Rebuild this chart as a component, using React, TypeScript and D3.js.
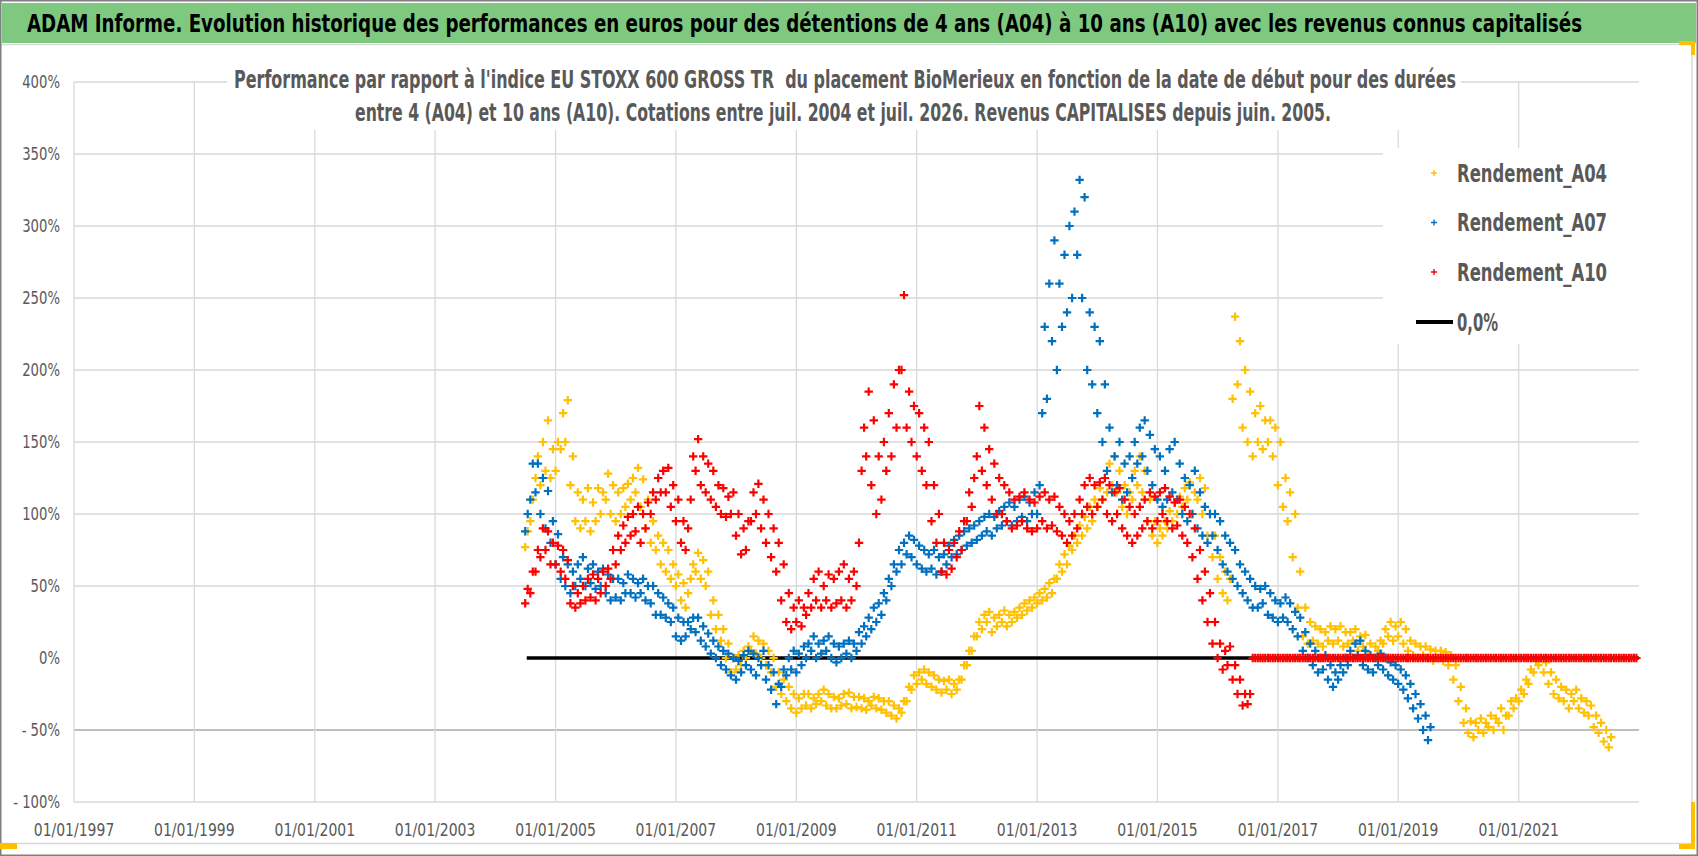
import React from "react";
import * as d3 from "d3";

// ---- data (semi-monthly readings, 1st and 16th of each month, from July 2004) ----
const a04 = [
  77, 88, 95, 110, 125, 140, 120, 150, 130, 165, 125, 145,
  130, 150, 145, 170, 150, 179, 120, 140, 95, 115, 90, 110, 95, 118, 88, 108, 95, 118, 100, 115, 110, 128, 100, 120,
  95, 115, 100, 118, 105, 121, 110, 125, 115, 132, 105, 124, 90, 110, 80, 95, 75, 85, 65, 80, 60, 75, 55, 65,
  50, 58, 40, 52, 35, 45, 55, 65, 60, 73, 55, 68, 50, 60, 30, 40, 20, 30, 12, 20, 0, 10, -10, 0,
  -8, 2, -5, 5, 0, 8, 5, 15, 3, 12, 0, 10, -5, 5, -10, 0, -20, -10, -25, -15, -30, -20, -35, -25,
  -38, -28, -35, -25, -33, -25, -35, -28, -32, -25, -30, -22, -33, -25, -35, -27, -35, -28, -33, -25, -32, -24, -35, -27,
  -34, -27, -35, -28, -36, -30, -33, -27, -35, -28, -36, -30, -38, -30, -40, -33, -42, -35, -38, -30, -30, -20, -22, -12,
  -18, -10, -15, -8, -18, -10, -20, -12, -22, -15, -24, -16, -22, -15, -25, -18, -22, -15, -15, -5, -5, 5, 5, 15,
  15, 25, 20, 30, 25, 32, 18, 28, 22, 30, 25, 33, 22, 30, 25, 32, 28, 35, 30, 38, 33, 40, 35, 42,
  38, 45, 40, 48, 42, 52, 45, 55, 55, 65, 60, 72, 65, 78, 75, 85, 80, 92, 85, 98, 90, 105, 95, 110,
  105, 118, 110, 125, 115, 135, 120, 140, 115, 130, 105, 120, 100, 115, 110, 130, 120, 140, 115, 130, 95, 110, 85, 95,
  80, 90, 85, 95, 90, 102, 95, 108, 100, 112, 105, 118, 110, 122, 100, 115, 110, 125, 100, 118, 85, 100, 70, 85,
  55, 70, 45, 60, 40, 55, 180, 237, 190, 220, 160, 200, 150, 185, 140, 170, 150, 175, 145, 165, 150, 165, 140, 160,
  120, 150, 105, 125, 95, 115, 70, 100, 35, 60, 15, 35, 10, 25, 12, 22, 10, 20, 8, 18, 12, 22, 10, 20,
  12, 22, 8, 18, 10, 18, 12, 20, 5, 15, 8, 16, 2, 10, 0, 8, 5, 12, 10, 20, 15, 25, 12, 22,
  15, 25, 10, 20, 5, 12, 2, 10, 0, 8, 2, 8, 0, 6, -2, 5, 0, 5, -2, 4, -5, 2, -15, -5,
  -30, -20, -45, -35, -52, -44, -55, -45, -50, -42, -52, -45, -48, -40, -50, -42, -45, -35, -50, -40, -40, -30, -35, -28,
  -30, -22, -25, -15, -18, -8, -10, -2, -5, 0, -10, -3, -18, -10, -25, -15, -28, -20, -30, -22, -35, -25, -30, -22,
  -35, -28, -38, -30, -40, -33, -48, -40, -52, -45, -58, -50, -62, -55,
];

const a07 = [
  88, 100, 110, 135, 115, 135, 100, 125, 90, 116, 80, 95,
  65, 86, 55, 70, 50, 65, 45, 60, 50, 65, 55, 70, 50, 62, 52, 65, 48, 60, 50, 62, 45, 58, 40, 55,
  42, 55, 40, 52, 45, 58, 45, 55, 42, 52, 45, 55, 40, 50, 38, 50, 30, 45, 30, 42, 28, 38, 25, 35,
  15, 28, 12, 25, 15, 25, 20, 28, 18, 28, 12, 22, 8, 17, 3, 12, 0, 8, -5, 5, -8, 3, -12, 0,
  -15, -2, -10, 2, -5, 5, -8, 3, -12, 0, -5, 5, -15, -5, -22, -10, -32, -18, -20, -8, -12, 0, -8, 5,
  -10, 3, -5, 8, 0, 10, 5, 15, 0, 10, 3, 12, 5, 15, 0, 10, -3, 8, 0, 10, 3, 12, 0, 10,
  5, 18, 10, 22, 15, 28, 20, 35, 25, 38, 30, 45, 40, 55, 50, 65, 60, 75, 65, 80, 72, 85, 70, 82,
  65, 78, 62, 75, 60, 72, 62, 75, 58, 70, 60, 72, 65, 78, 70, 82, 72, 85, 75, 88, 78, 90, 80, 92,
  82, 95, 85, 98, 88, 100, 85, 98, 90, 102, 92, 105, 95, 108, 92, 105, 95, 110, 98, 112, 95, 108, 100, 115,
  100, 120, 170, 230, 180, 260, 220, 290, 200, 260, 230, 280, 240, 300, 250, 310, 280, 332, 250, 320, 200, 240, 190, 230,
  170, 220, 150, 190, 130, 160, 115, 140, 120, 150, 110, 135, 115, 140, 125, 150, 135, 160, 140, 165, 130, 155, 120, 145,
  110, 140, 105, 130, 110, 145, 115, 150, 110, 135, 100, 125, 95, 120, 100, 130, 90, 115, 85, 105, 80, 100, 85, 100,
  75, 95, 65, 85, 60, 80, 55, 75, 50, 65, 45, 60, 40, 55, 35, 50, 35, 48, 38, 50, 30, 45, 28, 40,
  25, 38, 28, 42, 25, 38, 20, 32, 15, 28, 5, 18, 0, 10, -5, 5, -10, 0, -8, 2, -15, -5, -20, -10,
  -15, -5, -10, 0, -5, 5, 0, 10, 2, 12, -5, 5, -8, 2, -10, 0, -5, 3, -8, 0, -12, -3, -15, -5,
  -18, -8, -22, -12, -28, -18, -35, -25, -42, -32, -50, -40, -57, -48,
];

const a10 = [
  38, 48, 45, 60, 60, 75, 70, 90, 75, 88, 65, 80,
  65, 78, 60, 75, 55, 68, 38, 50, 35, 45, 38, 50, 40, 55, 42, 58, 40, 55, 45, 60, 50, 62, 55, 75,
  65, 85, 75, 92, 80, 98, 85, 100, 88, 105, 80, 100, 90, 108, 100, 115, 110, 125, 115, 130, 115, 132, 105, 120,
  95, 110, 80, 95, 75, 90, 110, 140, 130, 152, 120, 140, 115, 135, 110, 130, 105, 120, 100, 118, 98, 112, 100, 115,
  85, 100, 72, 90, 75, 95, 95, 115, 100, 121, 90, 110, 80, 100, 70, 90, 60, 80, 40, 65, 25, 45, 20, 35,
  25, 40, 22, 35, 30, 45, 35, 55, 40, 60, 35, 50, 40, 58, 35, 55, 38, 60, 40, 65, 35, 55, 40, 60,
  50, 80, 130, 160, 140, 185, 120, 165, 100, 140, 110, 150, 130, 170, 140, 190, 160, 200, 200, 252, 160, 185, 150, 175,
  140, 170, 130, 160, 120, 150, 95, 120, 80, 100, 60, 80, 58, 75, 62, 80, 70, 88, 75, 95, 95, 115, 105, 125,
  140, 175, 130, 160, 120, 145, 110, 135, 100, 125, 100, 120, 95, 115, 90, 110, 92, 112, 95, 115, 90, 110, 88, 108,
  90, 112, 95, 115, 90, 110, 92, 112, 88, 105, 85, 100, 80, 95, 85, 100, 90, 110, 100, 120, 105, 125, 100, 120,
  105, 122, 110, 125, 100, 120, 95, 115, 100, 118, 90, 110, 85, 105, 80, 100, 85, 105, 90, 110, 95, 115, 90, 112,
  95, 115, 100, 118, 95, 112, 90, 108, 92, 110, 85, 105, 80, 100, 70, 90, 55, 75, 40, 60, 25, 45, 10, 25,
  0, 10, -8, 5, -5, 8, -15, -5, -25, -15, -33, -25, -32, -25,
  // Aug 2016 onwards: the series reads 0 up to the end of the axis
  0, 0, 0, 0, 0, 0, 0, 0, 0, 0,
  0, 0, 0, 0, 0, 0, 0, 0, 0, 0, 0, 0, 0, 0, 0, 0, 0, 0, 0, 0, 0, 0, 0, 0,
  0, 0, 0, 0, 0, 0, 0, 0, 0, 0, 0, 0, 0, 0, 0, 0, 0, 0, 0, 0, 0, 0, 0, 0,
  0, 0, 0, 0, 0, 0, 0, 0, 0, 0, 0, 0, 0, 0, 0, 0, 0, 0, 0, 0, 0, 0, 0, 0,
  0, 0, 0, 0, 0, 0, 0, 0, 0, 0, 0, 0, 0, 0, 0, 0, 0, 0, 0, 0, 0, 0, 0, 0,
  0, 0, 0, 0, 0, 0, 0, 0, 0, 0, 0, 0, 0, 0, 0, 0, 0, 0, 0, 0, 0, 0, 0, 0,
  0, 0, 0, 0, 0, 0, 0, 0, 0, 0, 0, 0, 0, 0, 0, 0, 0, 0, 0, 0, 0, 0, 0, 0,
];

const zeroLineDates = ["2004-07-10", "2022-12-31"];
const zeroLineValues = [0, 0];

const yTicks = [-100, -50, 0, 50, 100, 150, 200, 250, 300, 350, 400];
const xTickYears = [1997, 1999, 2001, 2003, 2005, 2007, 2009, 2011, 2013, 2015, 2017, 2019, 2021];

const seriesNames = ["Rendement_A04", "Rendement_A07", "Rendement_A10"];
const zeroName = "0,0%";
const title =
  "ADAM Informe. Evolution historique des performances en euros pour des détentions de 4 ans (A04) à 10 ans (A10) avec les revenus connus capitalisés";
const subtitle1 =
  "Performance par rapport à l'indice EU STOXX 600 GROSS TR  du placement BioMerieux en fonction de la date de début pour des durées";
const subtitle2 =
  "entre 4 (A04) et 10 ans (A10). Cotations entre juil. 2004 et juil. 2026. Revenus CAPITALISES depuis juin. 2005.";

// ---- layout ----
const W = 1698;
const H = 856;
const plot = { left: 74, right: 1639, top: 82, bottom: 802 };
const colors = ["#FFC000", "#0070C0", "#FF0000"];
const grey = "#595959";
const font = "'DejaVu Sans Condensed', 'Liberation Sans Narrow', sans-serif";
const squeeze = 0.8; // the screenshot's Calibri is narrower than any installed face

const halfMonth = (k: number) => new Date(2004, 6 + Math.floor(k / 2), k % 2 ? 16 : 1);

const x = d3
  .scaleTime()
  .domain([new Date(1997, 0, 1), new Date(2023, 0, 1)])
  .range([plot.left, plot.right]);
const y = d3.scaleLinear().domain([-100, 400]).range([plot.bottom, plot.top]);

const plus = (s: number) => `M${-s},0H${s}M0,${-s}V${s}`;

const fmtDate = d3.timeFormat("%d/%m/%Y");
const fmtPct = (v: number) => (v < 0 ? `- ${Math.abs(v)}%` : `${v}%`);

// narrow text: squeezed horizontally, fitted to the width measured on the reference
function Narrow(props: {
  x: number;
  y: number;
  width?: number;
  size: number;
  weight?: number;
  fill: string;
  anchor?: string;
  scale?: number;
  dy?: string;
  children: string;
}) {
  const k = props.scale ?? squeeze;
  return (
    <text
      transform={`translate(${props.x},${props.y}) scale(${k},1)`}
      fontSize={props.size}
      fontWeight={props.weight ?? 400}
      fill={props.fill}
      textAnchor={props.anchor ?? "start"}
      dy={props.dy}
      xmlSpace="preserve"
      style={{ whiteSpace: "pre" }}
      textLength={props.width ? props.width / k : undefined}
      lengthAdjust={props.width ? "spacingAndGlyphs" : undefined}
    >
      {props.children}
    </text>
  );
}

export default function App() {
  const series = [a04, a07, a10];
  const zeroPath = d3
    .line<number>()
    .x((_, i) => x(new Date(zeroLineDates[i])))
    .y((v) => y(v))(zeroLineValues);

  return (
    <svg
      width={W}
      height={H}
      style={{ position: "absolute", left: 0, top: 0, display: "block", background: "#fff" }}
      fontFamily={font}
    >
      {/* frame */}
      <rect x={0} y={0} width={W} height={H} fill="#fff" />
      <rect x={2} y={3} width={W - 4} height={40} fill="#7EC87F" />
      <line x1={0} x2={1692} y1={44.5} y2={44.5} stroke="#d9d9d9" strokeWidth={1.5} />
      <line x1={1692} x2={1692} y1={44} y2={844} stroke="#d9d9d9" strokeWidth={1.5} />
      <line x1={0} x2={1692} y1={843.5} y2={843.5} stroke="#d9d9d9" strokeWidth={1.5} />
      <rect x={0.75} y={0.75} width={W - 1.5} height={H - 1.5} fill="none" stroke="#7f7f7f" strokeWidth={1.5} />

      <Narrow x={27} y={32} size={25} weight={700} fill="#000" width={1555}>
        {title}
      </Narrow>

      {/* grid */}
      {yTicks
        .filter((v) => v !== 0)
        .map((v) => (
          <line
            key={`h${v}`}
            x1={plot.left}
            x2={plot.right}
            y1={y(v)}
            y2={y(v)}
            stroke={v === -50 ? "#bfbfbf" : "#d9d9d9"}
            strokeWidth={v === -50 ? 2 : 1.3}
          />
        ))}
      {xTickYears.map((yr) => (
        <line
          key={`v${yr}`}
          x1={x(new Date(yr, 0, 1))}
          x2={x(new Date(yr, 0, 1))}
          y1={plot.top}
          y2={plot.bottom}
          stroke="#d9d9d9"
          strokeWidth={1.3}
        />
      ))}

      {/* subtitle */}
      <rect x={227} y={60} width={1234} height={70} fill="#fff" />
      <Narrow x={234} y={88} size={24} weight={700} fill={grey} width={1222}>
        {subtitle1}
      </Narrow>
      <Narrow x={355} y={121} size={24} weight={700} fill={grey} width={976}>
        {subtitle2}
      </Narrow>

      {/* axis labels */}
      {yTicks.map((v) => (
        <Narrow key={`yl${v}`} x={60} y={y(v)} dy="0.36em" anchor="end" size={17.5} fill={grey} scale={0.84}>
          {fmtPct(v)}
        </Narrow>
      ))}
      {xTickYears.map((yr) => (
        <Narrow key={`xl${yr}`} x={x(new Date(yr, 0, 1))} y={836} anchor="middle" size={18.5} fill={grey} scale={0.84}>
          {fmtDate(new Date(yr, 0, 1))}
        </Narrow>
      ))}

      {/* legend */}
      <rect x={1383} y={148} width={262} height={196} fill="#fff" />
      {seriesNames.map((n, i) => (
        <g key={n}>
          <path d={plus(3)} transform={`translate(1434,${173 + i * 49.5})`} stroke={colors[i]} strokeWidth={1.4} />
          <Narrow x={1457} y={173 + i * 49.5} dy="0.36em" size={24} weight={700} fill={grey} width={150}>
            {n}
          </Narrow>
        </g>
      ))}
      <line x1={1416} x2={1453} y1={322} y2={322} stroke="#000" strokeWidth={4} />
      <Narrow x={1457} y={322} dy="0.36em" size={24} weight={700} fill={grey} width={41}>
        {zeroName}
      </Narrow>

      {/* data */}
      <path d={zeroPath ?? ""} stroke="#000" strokeWidth={3.5} fill="none" />
      {series.map((vals, s) => (
        <g key={s} stroke={colors[s]} strokeWidth={2.2} fill="none">
          {vals.map((v, k) => (
            <path key={k} d={plus(4.2)} transform={`translate(${x(halfMonth(k)).toFixed(1)},${y(v).toFixed(1)})`} />
          ))}
        </g>
      ))}

      {/* selection handles */}
      <g fill="#FFC000">
        <rect x={0} y={843} width={17} height={6} />
        <rect x={1679} y={41} width={16} height={4} />
        <rect x={1691} y={41} width={4} height={14} />
        <rect x={1691} y={802} width={4} height={47} />
        <rect x={1679} y={844} width={16} height={5} />
      </g>
    </svg>
  );
}
